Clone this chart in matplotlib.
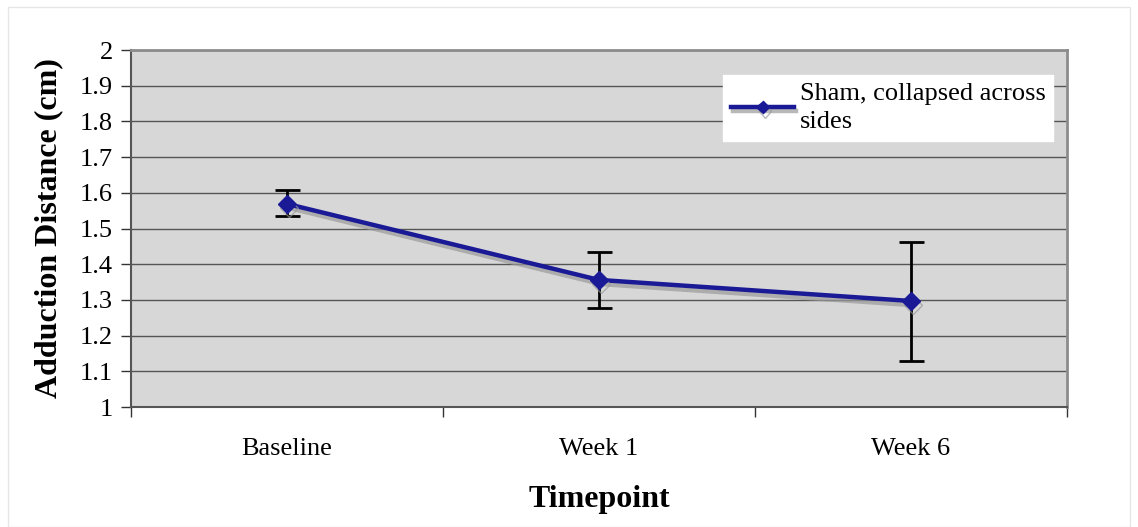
import matplotlib.pyplot as plt
import matplotlib.patheffects as pe
from matplotlib.patches import Rectangle
import numpy as np

plt.rcParams['font.family'] = ['Liberation Serif', 'DejaVu Serif']

timepoints = ['Baseline', 'Week 1', 'Week 6']
means = [1.569, 1.356, 1.297]
err_low = [1.535, 1.277, 1.129]
err_high = [1.608, 1.434, 1.462]

x = np.arange(len(timepoints)) + 0.5
yerr = [np.array(means) - np.array(err_low), np.array(err_high) - np.array(means)]

fig = plt.figure(figsize=(11.38, 5.27), dpi=100)
ax = fig.add_axes([0.1151, 0.2277, 0.8225, 0.6774])
ax.set_facecolor('#d7d7d7')

# faint outer frame
fig.patches.append(Rectangle((0.007, 0.0), 0.986, 0.987, transform=fig.transFigure,
                             fill=False, edgecolor='#e6e6e6', linewidth=1))

ax.errorbar(x, means, yerr=yerr, fmt='none', ecolor='black', elinewidth=2,
            capsize=9, capthick=2, zorder=3)
line, = ax.plot(x, means, color='#1a1a96', linewidth=3.2, marker='D', markersize=9,
                label='Sham, collapsed across\nsides', zorder=4,
                path_effects=[pe.SimpleLineShadow(offset=(1.5, -3), shadow_color='#9a9a9a', alpha=0.7),
                              pe.Normal()])

ax.set_xlim(0, 3)
ax.set_ylim(1, 2)
ax.set_yticks(np.arange(1, 2.01, 0.1))
ax.set_yticklabels(['1', '1.1', '1.2', '1.3', '1.4', '1.5', '1.6', '1.7', '1.8', '1.9', '2'])
ax.set_xticks(x)
ax.set_xticklabels(timepoints)
ax.set_xticks([0, 1, 2, 3], minor=True)
ax.tick_params(axis='x', which='major', length=0, pad=22, labelsize=19)
ax.tick_params(axis='x', which='minor', length=7, width=1, color='#333333')
ax.tick_params(axis='y', length=7, width=1, color='#333333', pad=6, labelsize=19)

ax.yaxis.grid(True, color='#555555', linewidth=1)
ax.set_axisbelow(True)

for side in ['left', 'bottom']:
    ax.spines[side].set_color('#555555')
    ax.spines[side].set_linewidth(1.5)
for side in ['top', 'right']:
    ax.spines[side].set_color('#8c8c8c')
    ax.spines[side].set_linewidth(2)

ax.set_ylabel('Adduction Distance (cm)', fontsize=23, fontweight='bold', labelpad=12)
ax.set_xlabel('Timepoint', fontsize=23, fontweight='bold', labelpad=18)

leg = ax.legend(loc='upper right', bbox_to_anchor=(0.9855, 0.93), fontsize=19,
                frameon=True, fancybox=False, handlelength=2.4, borderpad=0.3,
                handletextpad=0.2, markerscale=0.7, borderaxespad=0)
leg.get_texts()[0].set_linespacing(1.35)
leg.get_frame().set_facecolor('white')
leg.get_frame().set_edgecolor('white')
leg.get_frame().set_alpha(1)

fig.savefig('out.png', dpi=100)
